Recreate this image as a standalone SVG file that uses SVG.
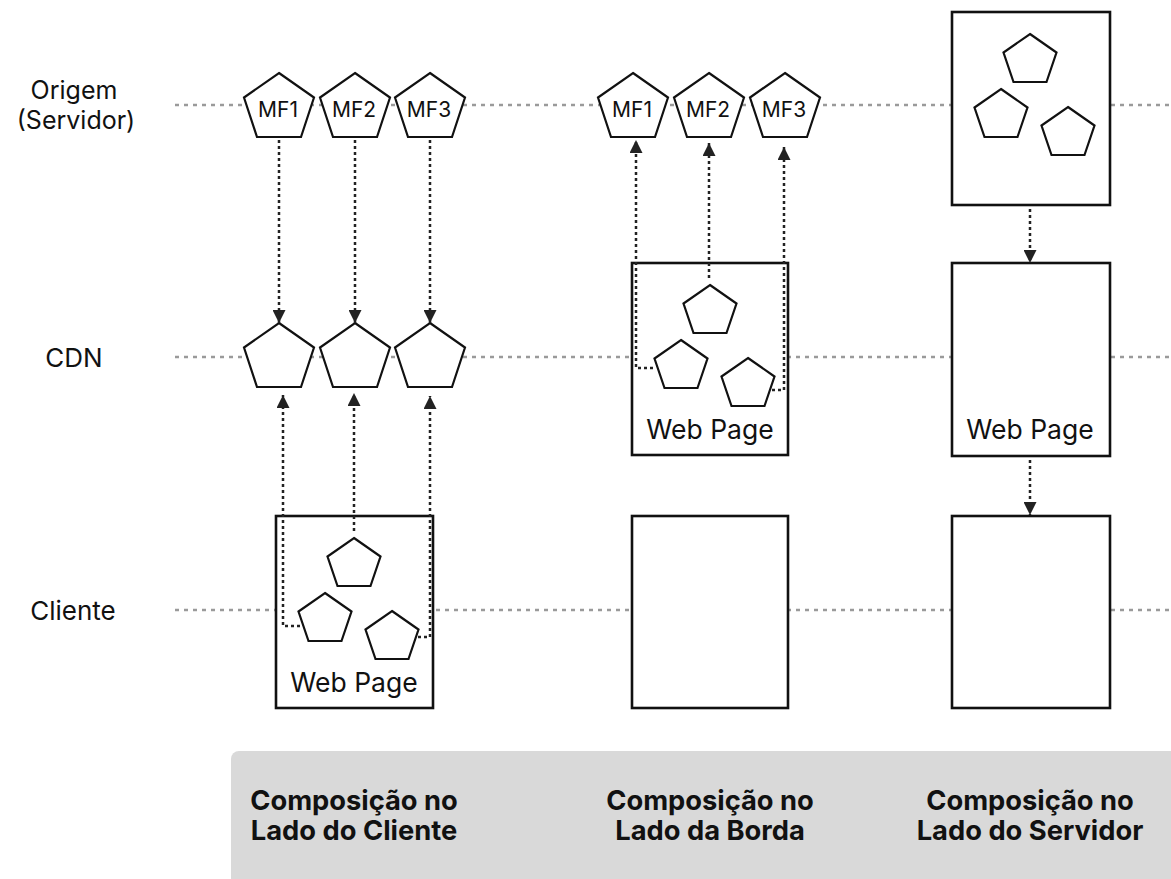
<svg xmlns="http://www.w3.org/2000/svg" xmlns:xlink="http://www.w3.org/1999/xlink" width="1171" height="879" viewBox="0 0 1171 879">
  <style>
    .lane { stroke: #9a9a9a; stroke-width: 2.5; stroke-dasharray: 4 5; fill: none; }
    .lbl { font-family: Inter, "Liberation Sans", sans-serif; font-size: 26px; fill: #111; text-anchor: middle; }
    .lbl-s { font-family: Inter, "Liberation Sans", sans-serif; font-size: 25px; fill: #111; text-anchor: middle; }
    .mf { font-family: Inter, "Liberation Sans", sans-serif; font-size: 21px; fill: #111; text-anchor: middle; }
    .wp { font-family: Inter, "Liberation Sans", sans-serif; font-size: 26.5px; fill: #111; text-anchor: middle; }
    .foot { font-family: Inter, "Liberation Sans", sans-serif; font-size: 27.3px; font-weight: 700; fill: #111; text-anchor: middle; }
    .box { fill: #fff; stroke: #111; stroke-width: 2.6; }
    .pent { fill: #fff; stroke: #111; stroke-width: 2.2; stroke-linejoin: miter; }
    .link { fill: none; stroke: #222; stroke-width: 2.5; stroke-dasharray: 3 3; marker-end: url(#arrow); }
  </style>
  <defs>
    <marker id="arrow" markerUnits="userSpaceOnUse" markerWidth="13" markerHeight="13" refX="13" refY="6.5" orient="auto">
      <path d="M0,0 L13,6.5 L0,13 z" fill="#222"/>
    </marker>
    <!-- large pentagon, apex at origin -->
    <path id="pent" d="M0,0 L35,24.5 L22,64 L-22,64 L-35,24.5 Z"/>
    <!-- small pentagon, apex at origin -->
    <path id="pent-s" d="M0,0 L26.5,18.5 L16.5,48 L-16.5,48 L-26.5,18.5 Z"/>
  </defs>

  <rect width="1171" height="879" fill="#fff"/>

  <!-- swimlane guides -->
  <g id="lanes">
    <line class="lane" x1="175" y1="105" x2="1171" y2="105"/>
    <line class="lane" x1="175" y1="357" x2="1171" y2="357"/>
    <line class="lane" x1="175" y1="610" x2="1171" y2="610"/>
  </g>

  <!-- lane titles -->
  <g id="lane-labels">
    <text class="lbl-s" x="74" y="99">Origem</text>
    <text class="lbl-s" x="76" y="129">(Servidor)</text>
    <text class="lbl" x="74" y="367">CDN</text>
    <text class="lbl" x="73" y="620">Cliente</text>
  </g>

  <!-- client-side composition -->
  <g id="client-mf1"><use href="#pent" class="pent" x="279" y="73"/><text class="mf" x="278" y="117">MF1</text></g>
  <g id="client-mf2"><use href="#pent" class="pent" x="355" y="73"/><text class="mf" x="354" y="117">MF2</text></g>
  <g id="client-mf3"><use href="#pent" class="pent" x="430" y="73"/><text class="mf" x="429" y="117">MF3</text></g>
  <g id="client-cdn1"><use href="#pent" class="pent" x="279" y="323"/></g>
  <g id="client-cdn2"><use href="#pent" class="pent" x="355" y="323"/></g>
  <g id="client-cdn3"><use href="#pent" class="pent" x="430" y="323"/></g>
  <g id="client-page">
    <rect class="box" x="276" y="516" width="157" height="192"/>
    <use href="#pent-s" class="pent" x="354" y="538"/>
    <use href="#pent-s" class="pent" x="325" y="593"/>
    <use href="#pent-s" class="pent" x="392" y="611"/>
    <text class="wp" x="354" y="692">Web Page</text>
  </g>

  <!-- edge-side composition -->
  <g id="edge-mf1"><use href="#pent" class="pent" x="633" y="73"/><text class="mf" x="632" y="117">MF1</text></g>
  <g id="edge-mf2"><use href="#pent" class="pent" x="709" y="73"/><text class="mf" x="708" y="117">MF2</text></g>
  <g id="edge-mf3"><use href="#pent" class="pent" x="785" y="73"/><text class="mf" x="784" y="117">MF3</text></g>
  <g id="edge-page">
    <rect class="box" x="632" y="263" width="156" height="192"/>
    <use href="#pent-s" class="pent" x="710" y="285"/>
    <use href="#pent-s" class="pent" x="681" y="340"/>
    <use href="#pent-s" class="pent" x="748" y="358"/>
    <text class="wp" x="710" y="439">Web Page</text>
  </g>
  <g id="edge-client">
    <rect class="box" x="632" y="516" width="156" height="192"/>
  </g>

  <!-- server-side composition -->
  <g id="server-origin">
    <rect class="box" x="952" y="12" width="158" height="193"/>
    <use href="#pent-s" class="pent" x="1030" y="34"/>
    <use href="#pent-s" class="pent" x="1001" y="89"/>
    <use href="#pent-s" class="pent" x="1068" y="107"/>
  </g>
  <g id="server-cdn">
    <rect class="box" x="952" y="263" width="158" height="193"/>
    <text class="wp" x="1030" y="439">Web Page</text>
  </g>
  <g id="server-client">
    <rect class="box" x="952" y="516" width="158" height="192"/>
  </g>

  <!-- connectors -->
  <g id="connectors">
    <path class="link" d="M279,140 V323"/>
    <path class="link" d="M355,140 V323"/>
    <path class="link" d="M430,140 V323"/>
    <path class="link" d="M300,626 H283 V395"/>
    <path class="link" d="M354,531 V393"/>
    <path class="link" d="M418,637 H430 V396"/>
    <path class="link" d="M653,368 H636 V140"/>
    <path class="link" d="M709,278 V143"/>
    <path class="link" d="M772,390 H784 V147"/>
    <path class="link" d="M1030,209 V263"/>
    <path class="link" d="M1030,460 V515"/>
  </g>

  <!-- footer captions -->
  <g id="footer">
    <rect x="231" y="751" width="960" height="140" rx="8" fill="#d9d9d9"/>
    <text class="foot" x="354" y="810">Composição no</text>
    <text class="foot" x="354" y="840">Lado do Cliente</text>
    <text class="foot" x="710" y="810">Composição no</text>
    <text class="foot" x="710" y="840">Lado da Borda</text>
    <text class="foot" x="1030" y="810">Composição no</text>
    <text class="foot" x="1030" y="840">Lado do Servidor</text>
  </g>
</svg>
